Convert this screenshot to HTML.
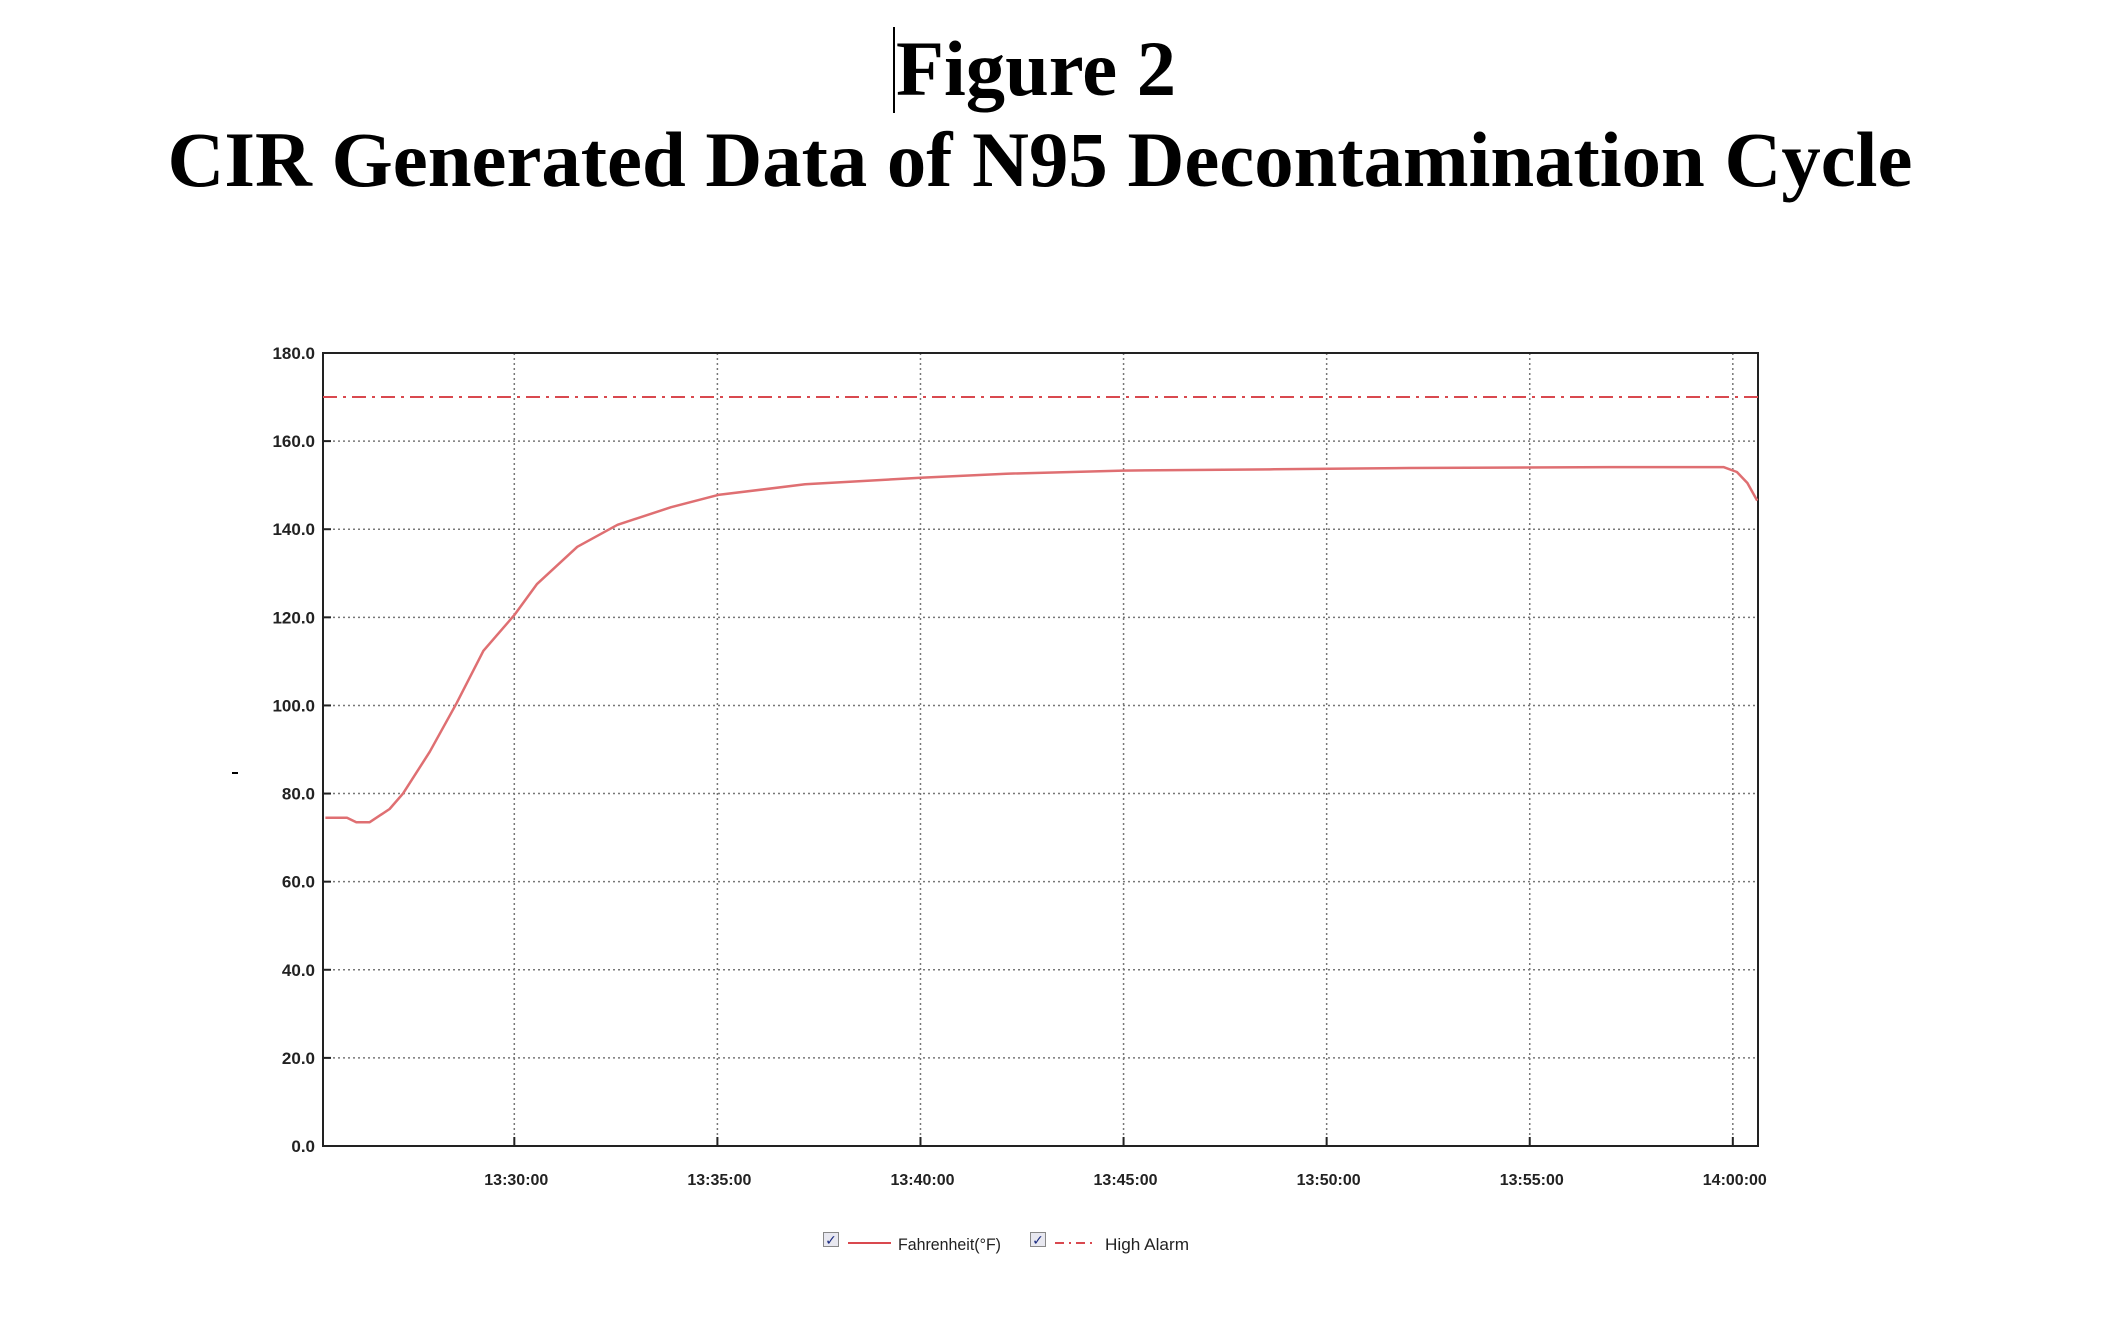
<!DOCTYPE html>
<html><head><meta charset="utf-8"><style>
html,body{margin:0;padding:0;background:#fff;}
svg{display:block;}
</style></head><body>
<svg id="chart" width="2104" height="1318" viewBox="0 0 2104 1318" xmlns="http://www.w3.org/2000/svg">
<line x1="894" y1="27" x2="894" y2="113" stroke="#000" stroke-width="2"/>
<text x="1036" y="95" text-anchor="middle" font-family="Liberation Serif, serif" font-weight="bold" font-size="78" textLength="280" lengthAdjust="spacingAndGlyphs">Figure 2</text>
<text x="1040" y="186" text-anchor="middle" font-family="Liberation Serif, serif" font-weight="bold" font-size="78" textLength="1745" lengthAdjust="spacingAndGlyphs">CIR Generated Data of N95 Decontamination Cycle</text>
<line x1="232" y1="773" x2="238" y2="773" stroke="#000" stroke-width="2"/>
<g id="grid"></g>
<g id="axes"></g>
<g id="series"></g>
<g id="legend">
  <rect x="823.5" y="1232.5" width="15" height="14" fill="#e8e8f0" stroke="#888"/>
  <text x="831" y="1245" text-anchor="middle" font-size="14" fill="#1a2a80" font-family="DejaVu Sans, sans-serif">✓</text>
  <line x1="848" y1="1243" x2="891" y2="1243" stroke="#d9494f" stroke-width="2"/>
  <text x="898" y="1250" font-family="Liberation Sans, sans-serif" font-size="17" fill="#222" textLength="103" lengthAdjust="spacingAndGlyphs">Fahrenheit(°F)</text>
  <rect x="1030.5" y="1232.5" width="15" height="14" fill="#e8e8f0" stroke="#888"/>
  <text x="1038" y="1245" text-anchor="middle" font-size="14" fill="#1a2a80" font-family="DejaVu Sans, sans-serif">✓</text>
  <line x1="1055" y1="1243" x2="1096" y2="1243" stroke="#d9494f" stroke-width="2" stroke-dasharray="9,5,2,5"/>
  <text x="1105" y="1250" font-family="Liberation Sans, sans-serif" font-size="17" fill="#222" textLength="84" lengthAdjust="spacingAndGlyphs">High Alarm</text>
</g>
</svg>
<script>
// minutes after 13:25:00
const times = [0.35, 0.88, 1.11, 1.44, 1.93, 2.26, 2.92, 3.58, 4.24, 5.0, 5.56, 6.55, 7.54, 8.86, 10.02, 12.16, 15.0, 17.11, 19.98, 23.71, 27.01, 31.96, 34.77, 35.1, 35.36, 35.6];
const temps = [74.5, 74.5, 73.5, 73.5, 76.5, 80, 89.5, 100.5, 112.4, 120.5, 127.6, 136, 141, 145, 147.8, 150.2, 151.7, 152.6, 153.3, 153.6, 153.9, 154.1, 154.1, 153, 150.5, 146.5];
const alarmValue = [170];
const yTicks = [0, 20, 40, 60, 80, 100, 120, 140, 160, 180];
const xTickMinutes = [5, 10, 15, 20, 25, 30, 35];
const xTickLabels = ["13:30:00", "13:35:00", "13:40:00", "13:45:00", "13:50:00", "13:55:00", "14:00:00"];

const L = 323, R = 1758, T = 353, B = 1146;
const xMin = 0.29, xMax = 35.62, yMin = 0, yMax = 180;
const xs = m => L + (m - xMin) / (xMax - xMin) * (R - L);
const ys = v => B - (v - yMin) / (yMax - yMin) * (B - T);
const NS = "http://www.w3.org/2000/svg";
function mk(tag, attrs, parent) {
  const e = document.createElementNS(NS, tag);
  for (const k in attrs) e.setAttribute(k, attrs[k]);
  parent.appendChild(e);
  return e;
}
const grid = document.getElementById('grid');
const axes = document.getElementById('axes');
const series = document.getElementById('series');

yTicks.forEach(v => {
  const y = ys(v);
  if (v > 0 && v < 180) {
    const g = mk('line', {x1: L, x2: R, y1: y, y2: y, stroke: '#777', 'stroke-width': 1.5, 'stroke-dasharray': '2,3'}, grid);
    
    
  }
  const tk = mk('line', {x1: L, x2: L + 8, y1: y, y2: y, stroke: '#222', 'stroke-width': 2}, axes);
  
  
  const t = mk('text', {x: 315, y: y + 6, 'text-anchor': 'end', 'font-family': 'Liberation Sans, sans-serif', 'font-weight': 'bold', 'font-size': 17, fill: '#222'}, axes);
  t.textContent = v.toFixed(1);
  
  
});
xTickMinutes.forEach((m, i) => {
  const x = xs(m);
  const g = mk('line', {x1: x, x2: x, y1: T, y2: B, stroke: '#777', 'stroke-width': 1.5, 'stroke-dasharray': '2,3'}, grid);
  
  
  const tk = mk('line', {x1: x, x2: x, y1: B - 9, y2: B, stroke: '#222', 'stroke-width': 2}, axes);
  
  
  const t = mk('text', {x: x + 2, y: 1185, 'text-anchor': 'middle', 'font-family': 'Liberation Sans, sans-serif', 'font-weight': 'bold', 'font-size': 16, fill: '#222'}, axes);
  t.textContent = xTickLabels[i];
  
  
});
const frame = mk('rect', {x: L, y: T, width: R - L, height: B - T, fill: 'none', stroke: '#222', 'stroke-width': 2}, axes);



const ay = ys(alarmValue[0]);
const al = mk('line', {x1: L, x2: R, y1: ay, y2: ay, stroke: '#d9494f', 'stroke-width': 2, 'stroke-dasharray': '14,6,3,6'}, series);



const d = times.map((m, i) => (i ? 'L' : 'M') + xs(m).toFixed(1) + ',' + ys(temps[i]).toFixed(1)).join(' ');
const p = mk('path', {d: d, fill: 'none', stroke: '#df6f72', 'stroke-width': 2.5, 'stroke-linejoin': 'round'}, series);


</script>
</body></html>
